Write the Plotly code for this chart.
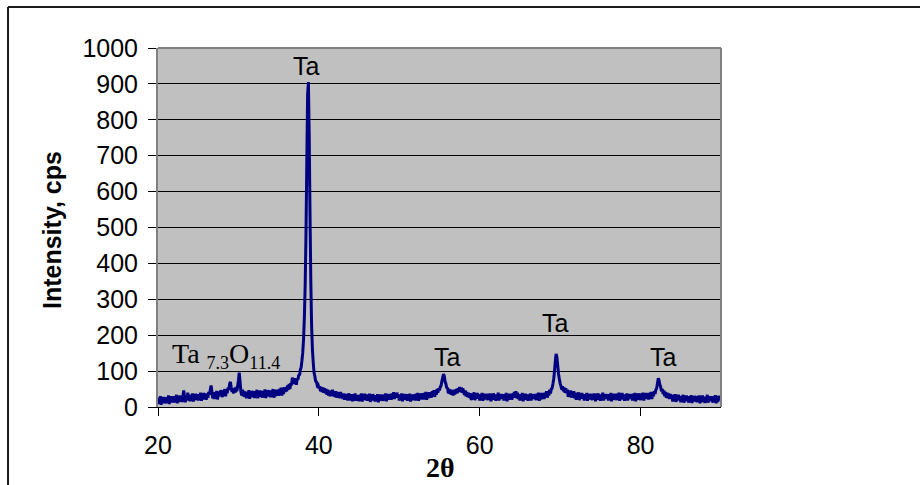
import plotly.graph_objects as go

# XRD scan: 2-theta from 20 to 90 degrees in 0.1 degree steps
TWO_THETA_START = 20.0
TWO_THETA_STEP = 0.1

# Intensity (cps), one row per degree (20.0 ... 20.9, 21.0 ... 21.9, ...)
intensity = [
    8, 26, 14, 30, 6, 22, 10, 28, 16, 24,
    10, 27, 15, 32, 8, 24, 12, 30, 18, 25,
    12, 30, 17, 34, 10, 26, 14, 32, 20, 27,
    14, 31, 46, 28, 13, 29, 18, 40, 22, 30,
    16, 34, 21, 38, 15, 31, 19, 37, 25, 33,
    18, 36, 24, 40, 17, 33, 21, 39, 27, 35,
    20, 38, 26, 42, 35, 48, 60, 44, 24, 36,
    22, 41, 28, 45, 21, 37, 43, 30, 47, 35,
    28, 46, 33, 50, 30, 46, 38, 54, 48, 64,
    70, 55, 42, 50, 38, 53, 40, 56, 44, 58,
    74, 96, 72, 44, 32, 48, 30, 45, 28, 42,
    24, 43, 30, 47, 23, 39, 27, 45, 33, 41,
    25, 44, 31, 48, 24, 40, 28, 46, 34, 42,
    26, 45, 32, 49, 25, 41, 29, 47, 35, 43,
    27, 46, 33, 50, 26, 42, 30, 48, 36, 44,
    31, 50, 37, 54, 32, 48, 36, 55, 42, 50,
    44, 60, 48, 64, 50, 66, 60, 82, 68, 74,
    64, 80, 62, 78, 76, 90, 88, 104, 110, 130,
    152, 190, 250, 340, 480, 680, 870, 905, 760, 540,
    350, 225, 160, 124, 96, 86, 72, 70, 60, 62,
    52, 58, 44, 56, 42, 54, 40, 52, 38, 50,
    34, 48, 32, 46, 30, 44, 36, 48, 30, 42,
    28, 44, 26, 42, 30, 40, 24, 42, 28, 38,
    22, 38, 20, 36, 24, 34, 18, 38, 26, 32,
    18, 36, 16, 32, 22, 38, 17, 33, 24, 30,
    16, 34, 20, 38, 15, 31, 19, 37, 23, 33,
    17, 35, 21, 37, 14, 30, 18, 36, 24, 32,
    15, 33, 19, 36, 13, 29, 17, 35, 22, 31,
    17, 35, 21, 38, 16, 32, 20, 36, 24, 33,
    20, 38, 24, 41, 22, 36, 26, 40, 28, 34,
    18, 35, 21, 38, 16, 32, 20, 36, 24, 33,
    17, 36, 22, 37, 15, 33, 19, 35, 25, 31,
    18, 37, 22, 39, 17, 33, 21, 38, 26, 34,
    21, 39, 25, 42, 20, 36, 24, 41, 29, 37,
    26, 44, 30, 47, 28, 44, 34, 50, 40, 52,
    46, 56, 60, 72, 82, 92, 86, 70, 64, 52,
    54, 38, 50, 36, 48, 34, 46, 32, 48, 36,
    40, 50, 38, 52, 42, 56, 44, 54, 40, 52,
    42, 34, 46, 30, 42, 28, 40, 26, 38, 24,
    20, 38, 24, 41, 19, 35, 23, 39, 27, 36,
    18, 36, 22, 39, 17, 33, 21, 37, 25, 34,
    19, 37, 23, 38, 16, 32, 20, 38, 26, 33,
    17, 35, 21, 40, 18, 34, 22, 36, 24, 32,
    18, 36, 22, 39, 16, 33, 20, 37, 25, 34,
    20, 38, 26, 42, 30, 44, 24, 40, 22, 34,
    18, 36, 22, 39, 16, 33, 20, 37, 25, 34,
    17, 35, 21, 38, 18, 34, 22, 36, 24, 32,
    19, 37, 23, 40, 17, 33, 21, 39, 26, 35,
    22, 40, 27, 44, 26, 42, 32, 48, 38, 50,
    52, 64, 78, 100, 128, 148, 138, 116, 92, 78,
    66, 58, 48, 58, 44, 54, 40, 52, 38, 48,
    28, 44, 30, 46, 26, 42, 30, 44, 24, 40,
    20, 38, 24, 41, 19, 35, 23, 39, 27, 36,
    18, 36, 22, 39, 17, 33, 21, 37, 25, 34,
    19, 37, 23, 38, 16, 32, 20, 38, 26, 33,
    17, 35, 21, 40, 18, 34, 22, 36, 24, 32,
    18, 36, 22, 39, 16, 33, 20, 37, 25, 34,
    19, 37, 23, 40, 17, 33, 21, 39, 26, 35,
    17, 35, 21, 38, 18, 34, 22, 36, 24, 32,
    18, 37, 22, 39, 16, 33, 20, 38, 25, 34,
    19, 38, 23, 40, 18, 35, 22, 39, 26, 35,
    21, 39, 25, 42, 22, 38, 30, 44, 36, 48,
    52, 66, 80, 74, 62, 56, 44, 50, 36, 46,
    30, 42, 26, 40, 24, 38, 22, 36, 26, 34,
    15, 33, 19, 36, 14, 30, 18, 34, 22, 31,
    13, 31, 17, 34, 12, 28, 16, 32, 20, 29,
    12, 30, 16, 33, 11, 27, 15, 31, 19, 28,
    13, 31, 17, 32, 10, 26, 14, 32, 20, 27,
    11, 29, 15, 34, 12, 28, 16, 30, 18, 26,
    12, 30, 16, 33, 10, 27, 14, 31, 19, 28,
    20,
]

x_ticks = [20, 40, 60, 80]
y_range = [0, 1000]
y_step = 100

# Phase labels: (text, 2-theta, intensity position)
phase_labels = [
    ("Ta", 38.49, 950),
    ("Ta", 56.0, 139),
    ("Ta", 69.48, 235),
    ("Ta", 82.85, 139),
]
SUB = '<sub><span style="font-size:18px">{}</span></sub>'
oxide_label = ("Ta " + SUB.format("7.3") + "O" + SUB.format("11.4"), 21.49, 143)

SANS = "Liberation Sans, Arial, sans-serif"
SERIF = "Liberation Serif, Times New Roman, serif"

fig = go.Figure()
fig.add_trace(go.Scatter(
    x0=TWO_THETA_START, dx=TWO_THETA_STEP, y=intensity,
    mode="lines", line=dict(color="#000080", width=3, simplify=False),
    hoverinfo="skip", showlegend=False,
))

annotations = []
for text, xv, yv in phase_labels:
    annotations.append(dict(
        text=text, x=xv, y=yv, xref="x", yref="y",
        xanchor="center", yanchor="middle", showarrow=False,
        font=dict(family=SANS, size=25, color="black"),
    ))
annotations.append(dict(
    text=oxide_label[0], x=oxide_label[1], y=oxide_label[2],
    xref="x", yref="y", xanchor="left", yanchor="middle", showarrow=False,
    font=dict(family=SERIF, size=28, color="black"),
))
# Axis titles
annotations.append(dict(
    text="<b>Intensity, cps</b>", x=-0.1883, y=0.493, xref="paper", yref="paper",
    textangle=-90, xanchor="center", yanchor="middle", showarrow=False,
    font=dict(family=SANS, size=25, color="black"),
))
annotations.append(dict(
    text="<b>2θ</b>", x=0.5009, y=-0.168, xref="paper", yref="paper",
    xanchor="center", yanchor="middle", showarrow=False,
    font=dict(family=SERIF, size=28, color="black"),
))

shapes = [
    # plot-area border (top and right edges)
    dict(type="line", xref="paper", yref="paper", x0=0, x1=1, y0=1, y1=1,
         line=dict(color="#808080", width=2), layer="above"),
    dict(type="line", xref="paper", yref="paper", x0=1, x1=1, y0=0, y1=1,
         line=dict(color="#808080", width=2), layer="above"),
    # chart frame
    dict(type="line", xref="paper", yref="paper", x0=-0.2664, x1=1.45,
         y0=1.1142, y1=1.1142, line=dict(color="#1a1a1a", width=2), layer="above"),
    dict(type="line", xref="paper", yref="paper", x0=-0.2664, x1=-0.2664,
         y0=-0.3, y1=1.1142, line=dict(color="#1a1a1a", width=2), layer="above"),
]

fig.update_layout(
    width=920, height=485, autosize=False,
    margin=dict(l=158, r=199, t=48, b=78, pad=0),
    paper_bgcolor="white", plot_bgcolor="#C0C0C0",
    annotations=annotations, shapes=shapes,
    xaxis=dict(
        range=[20, 90], tickvals=x_ticks, showgrid=False, zeroline=False,
        ticks="outside", ticklen=8, tickcolor="black", tickwidth=1,
        showline=True, linecolor="black", linewidth=1,
        tickfont=dict(family=SANS, size=25, color="black"),
        ticklabelstandoff=8,
    ),
    yaxis=dict(
        range=y_range, dtick=y_step, tick0=0, showgrid=True,
        gridcolor="black", gridwidth=1, zeroline=False,
        ticks="outside", ticklen=8, tickcolor="black", tickwidth=1,
        showline=True, linecolor="#808080", linewidth=2,
        tickfont=dict(family=SANS, size=25, color="black"),
        ticklabelstandoff=5,
    ),
)

fig.write_html("out.html")
